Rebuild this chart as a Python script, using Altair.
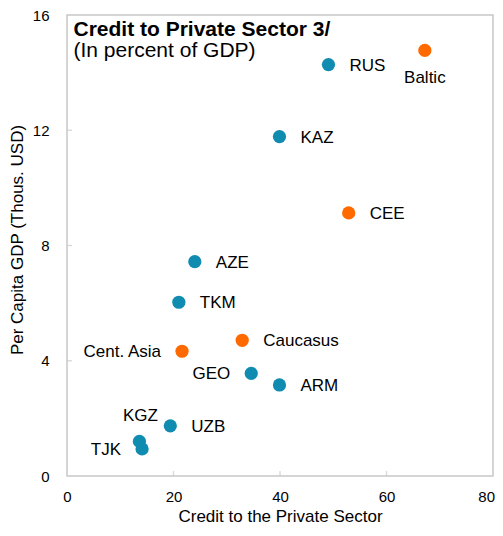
import altair as alt
import pandas as pd

# ---- data ----
names = ["RUS", "Baltic", "KAZ", "CEE", "AZE", "TKM", "Caucasus", "Cent. Asia",
         "GEO", "ARM", "UZB", "KGZ", "TJK"]
credit = [49.1, 67.2, 39.9, 52.9, 24.0, 21.0, 32.9, 21.6, 34.6, 39.9, 19.4, 13.6, 14.1]
gdp = [14.28, 14.77, 11.78, 9.13, 7.44, 6.03, 4.71, 4.33, 3.56, 3.16, 1.74, 1.20, 0.94]
group = ["Country", "Region", "Country", "Region", "Country", "Country", "Region",
         "Region", "Country", "Country", "Country", "Country", "Country"]
label_side = ["right", "below", "right", "right", "right", "right", "right", "left",
              "left", "right", "right", "above", "left"]

x_ticks = [0, 20, 40, 60, 80]
y_ticks = [0, 4, 8, 12, 16]
title_line1 = "Credit to Private Sector 3/"
title_line2 = "(In percent of GDP)"
x_title = "Credit to the Private Sector"
y_title = "Per Capita GDP (Thous. USD)"

df = pd.DataFrame({"name": names, "credit": credit, "gdp": gdp,
                   "group": group, "side": label_side})

W, H = 426, 461
FONT = "Liberation Sans"
GRAY = "#c8c8c8"

xs = alt.Scale(domain=[0, 80], nice=False)
ys = alt.Scale(domain=[0, 16], nice=False)

last_x = "datum.value === %d" % x_ticks[-1]

x_axis = alt.Axis(values=x_ticks, title=x_title, domain=False, ticks=False, tickSize=0,
                  grid=False, labelFlush=False, labelPadding=13.5, labelFontSize=15,
                  labelAlign={"condition": {"test": last_x, "value": "right"},
                              "value": "center"},
                  labelOffset={"condition": {"test": last_x, "value": 1.5},
                               "value": 0},
                  labelColor="#000000", labelFont=FONT, titleFont=FONT,
                  titleFontSize=17, titleFontWeight="normal", titleColor="#000000",
                  titleBaseline="middle", titleY=40, titleX=W / 2)
y_axis = alt.Axis(values=y_ticks, title=y_title, domain=False, ticks=False, tickSize=0,
                  grid=False, labelPadding=18, labelFontSize=15,
                  labelColor="#000000", labelFont=FONT, titleFont=FONT,
                  titleFontSize=17, titleFontWeight="normal", titleColor="#000000",
                  titleBaseline="middle", titleX=-50, titleY=224.5)

X = alt.X("credit:Q", scale=xs, axis=x_axis)
Y = alt.Y("gdp:Q", scale=ys, axis=y_axis)

base = alt.Chart(df)

points = base.mark_circle(size=175, opacity=1).encode(
    x=X, y=Y,
    color=alt.Color("group:N", scale=alt.Scale(domain=["Country", "Region"],
                                               range=["#108CB0", "#FF6A00"]),
                    legend=None),
)


def labels(side, align, dx, dy):
    return base.transform_filter(alt.datum.side == side).mark_text(
        align=align, baseline="middle", dx=dx, dy=dy, fontSize=17,
        font=FONT, color="#000000"
    ).encode(x=X, y=Y, text="name:N")


lab_r = labels("right", "left", 21, 1)
lab_l = labels("left", "right", -21, 1)
lab_a = labels("above", "center", 1, -25)
lab_b = labels("below", "center", 0, 28)

xt = alt.Chart(pd.DataFrame({"credit": x_ticks[1:-1]})).mark_tick(
    color=GRAY, thickness=1.3, size=5, orient="vertical").encode(
    x=X, y=alt.value(H - 2.5))
yt = alt.Chart(pd.DataFrame({"gdp": y_ticks[1:-1]})).mark_tick(
    color=GRAY, thickness=1.3, size=5, orient="horizontal").encode(
    y=Y, x=alt.value(2.5))

t1 = alt.Chart(pd.DataFrame({"t": [title_line1]})).mark_text(
    align="left", baseline="alphabetic", fontSize=21, fontWeight="bold", font=FONT,
    color="#000000").encode(x=alt.value(6.5), y=alt.value(20.5), text="t:N")
t2 = alt.Chart(pd.DataFrame({"t": [title_line2]})).mark_text(
    align="left", baseline="alphabetic", fontSize=21, font=FONT,
    color="#000000").encode(x=alt.value(6.5), y=alt.value(42), text="t:N")

chart = alt.layer(points, xt, yt, lab_r, lab_l, lab_a, lab_b, t1, t2).properties(
    width=W, height=H,
    padding={"left": 0, "top": 0, "right": 0, "bottom": 0},
).configure_view(stroke=GRAY, strokeWidth=1.5)

chart.save("out.html", embed_options={"renderer": "svg", "actions": False})
